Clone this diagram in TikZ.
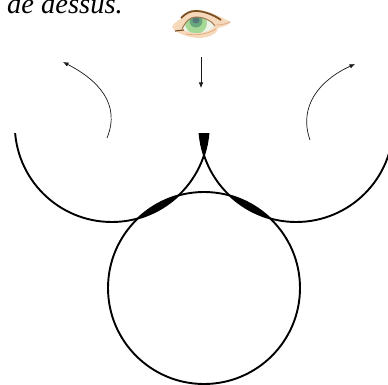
\documentclass[tikz,border=0pt]{standalone}
\usepackage{fontspec}
\setmainfont{Liberation Serif}
\usetikzlibrary{arrows.meta}
\definecolor{skin}{RGB}{246,216,186}
\definecolor{skind}{RGB}{225,175,135}
\definecolor{brow}{RGB}{125,80,35}
\definecolor{irisg}{RGB}{165,215,150}
\definecolor{irisd}{RGB}{105,165,125}
\definecolor{pupilc}{RGB}{85,120,120}
\definecolor{sclera}{RGB}{238,244,232}
\tikzset{
  ring/.style={line width=1.9pt,black},
  thinarrow/.style={line width=0.7pt,black!90,-{Latex[length=5.5pt,width=4.5pt]}}
}
\begin{document}
\begin{tikzpicture}[x=1pt,y=-1pt]
\useasboundingbox (0,0) rectangle (388,385);
\coordinate (cl) at (111.8,125);
\coordinate (cr) at (296.2,125);
\coordinate (cb) at (204,288);
\def\rs{97}
\def\rb{96}
% black lenses
\begin{scope}
  \clip (cl) circle[radius=\rs];
  \fill (cb) circle[radius=\rb];
\end{scope}
\begin{scope}
  \clip (cr) circle[radius=\rs];
  \fill (cb) circle[radius=\rb];
\end{scope}
\begin{scope}
  \clip (190,134) rectangle (220,170);
  \clip (cl) circle[radius=\rs];
  \fill (cr) circle[radius=\rs];
\end{scope}
% rings
\draw[ring] (cb) circle[radius=\rb];
\begin{scope}
  \clip (0,134) rectangle (388,385);
  \draw[ring] (cl) circle[radius=\rs];
  \draw[ring] (cr) circle[radius=\rs];
\end{scope}
% arrows
\coordinate (a1) at (107,138);
\coordinate (a2) at (63,62);
\coordinate (b1) at (310,140);
\coordinate (b2) at (355,64);
\coordinate (c1) at (201,57);
\coordinate (c2) at (201,88);
\draw[thinarrow] (a1) .. controls (121,104) and (98,80) .. (a2);
\draw[thinarrow] (b1) .. controls (298,106) and (320,80) .. (b2);
\draw[thinarrow] (c1) -- (c2);
% eye
\fill[skin] (172,27) .. controls (174,22) and (180,20) .. (183,17) .. controls (188,11) and (193,9) .. (198,10) .. controls (210,11) and (222,18) .. (231,22) .. controls (228,26) and (221,27) .. (218,28) .. controls (218,33) and (210,37) .. (201,38) .. controls (190,38) and (176,34) .. (172,27) -- cycle;
\fill[sclera] (182,29) .. controls (186,21) and (190,17) .. (196,17) .. controls (204,17) and (212,21) .. (215,26) .. controls (210,31) and (204,33) .. (198,33) .. controls (192,33) and (186,32) .. (182,29) -- cycle;
\begin{scope}
  \clip (182,29) .. controls (186,21) and (190,17) .. (196,17) .. controls (204,17) and (212,21) .. (215,26) .. controls (210,31) and (204,33) .. (198,33) .. controls (192,33) and (186,32) .. (182,29) -- cycle;
  \fill[irisg] (196,23) circle[radius=11];
  \fill[irisd] (196,21) circle[radius=6.5];
  \fill[pupilc] (196,20) circle[radius=3.5];
\end{scope}
\draw[brow,line width=1.8pt] (181,18) .. controls (186,13) and (190,11) .. (196,11) .. controls (204,11) and (214,15) .. (221,20);
\draw[brow!70!skin,line width=1pt] (182,29) .. controls (186,21) and (190,17) .. (196,17) .. controls (204,17) and (212,21) .. (215,26);
\draw[brow,line width=1.2pt] (175,31) -- (184,30);
\draw[skind,line width=0.8pt] (186,34) .. controls (196,36) and (208,34) .. (216,29);
\draw[skind,line width=0.8pt] (216,25) .. controls (221,25) and (226,24) .. (230,22);
% caption
\node[anchor=base west,inner sep=0pt,font=\itshape\fontsize{28.5}{30}\selectfont] (cap) at (7,14) {de dessus.};
\end{tikzpicture}
\end{document}
